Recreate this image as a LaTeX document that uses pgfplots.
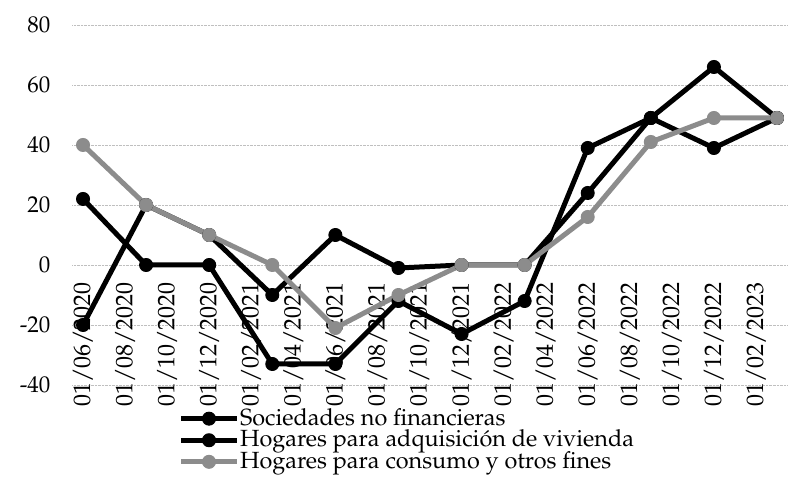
\documentclass[border=0pt]{standalone}
\usepackage[T1]{fontenc}
\usepackage{mathpazo}
\usepackage{pgfplots}
\pgfplotsset{compat=1.18}
\definecolor{sgray}{RGB}{140,140,140}
\begin{document}
\fontsize{23}{25}\selectfont
\begin{tikzpicture}[x=1bp,y=1bp]
\useasboundingbox (-72.5,-101) rectangle (722.5,385);
\begin{axis}[
  at={(0,0)}, anchor=south west,
  scale only axis, width=715bp, height=360bp,
  xmin=-0.5, xmax=33.5, ymin=-40, ymax=80,
  xtick={0,2,...,32},
  xticklabels={01/06/2020,01/08/2020,01/10/2020,01/12/2020,01/02/2021,01/04/2021,01/06/2021,01/08/2021,01/10/2021,01/12/2021,01/02/2022,01/04/2022,01/06/2022,01/08/2022,01/10/2022,01/12/2022,01/02/2023},
  ytick={-40,-20,0,20,40,60,80},
  yticklabels={-40,-20,0,20,40,60,80},
  axis line style={draw=none},
  major tick length=0pt,
  ymajorgrids, grid style={densely dotted, black!25, line width=0.7bp},
  y tick label style={font=\fontsize{23}{25}\selectfont, inner sep=0pt},
  x tick label style={font=\fontsize{24}{26}\selectfont, rotate=90, anchor=east, inner sep=0pt},
  xticklabel shift=-103bp,
  yticklabel shift=22bp,
  legend style={draw=none, fill=none, at={(0.148,-0.063)}, anchor=north west,
    font=\fontsize{23.5}{25}\selectfont, row sep=0pt, inner sep=0pt,
    nodes={inner sep=0.6bp}},
  legend cell align=left,
  legend image code/.code={\draw[mark repeat=2,mark phase=2,#1] plot coordinates {(0bp,0bp) (28bp,0bp) (56bp,0bp)};},
  every axis plot/.append style={line width=5bp, line join=round, mark=*, mark size=6.5bp},
]
\addplot[black, mark options={fill=black, line width=1bp}] coordinates {
 (0,22) (3,0) (6,0) (9,-33) (12,-33) (15,-12) (18,-23) (21,-12) (24,39) (27,49) (30,39) (33,49)};
\addlegendentry{Sociedades no financieras}
\addplot[black, mark options={fill=black, line width=1bp}] coordinates {
 (0,-20) (3,20) (6,10) (9,-10) (12,10) (15,-1) (18,0) (21,0) (24,24) (27,49) (30,66) (33,49)};
\addlegendentry{Hogares para adquisici\'{o}n de vivienda}
\addplot[sgray, mark options={fill=sgray, line width=1bp}] coordinates {
 (0,40) (3,20) (6,10) (9,0) (12,-21) (15,-10) (18,0) (21,0) (24,16) (27,41) (30,49) (33,49)};
\addlegendentry{Hogares para consumo y otros fines}
\end{axis}
\end{tikzpicture}
\end{document}
